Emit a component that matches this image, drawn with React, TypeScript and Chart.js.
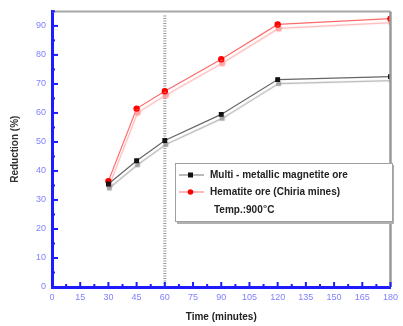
import React, { useEffect, useRef } from "react";
import { Chart, registerables } from "chart.js";

Chart.register(...registerables);

const timeMin = [30, 45, 60, 90, 120, 180];
const magnetite = [35.5, 43.5, 50.5, 59.5, 71.5, 72.5];
const hematite = [36.5, 61.5, 67.5, 78.5, 90.5, 92.5];
const seriesLabels = ["Multi - metallic magnetite ore", "Hematite ore (Chiria mines)"];
const noteMain = "Temp.:900";
const noteUnit = "C";
const xTitle = "Time (minutes)";
const yTitle = "Reduction (%)";
const markerLine = 60;

const AXIS = "#1c1cff";
const TICKLBL = "#8080ff";

const shadowPlugin = {
  id: "lineShadow",
  beforeDatasetDraw(chart: any, args: any) {
    const ctx = chart.ctx;
    ctx.save();
    ctx.shadowColor = args.index === 0 ? "rgba(150,150,150,0.75)" : "rgba(255,150,150,0.75)";
    ctx.shadowOffsetX = 1;
    ctx.shadowOffsetY = 4;
    ctx.shadowBlur = 1;
  },
  afterDatasetDraw(chart: any) {
    chart.ctx.restore();
  },
};

const decoPlugin = {
  id: "deco",
  beforeDatasetsDraw(chart: any) {
    const { ctx, chartArea, scales } = chart;
    const x = scales.x.getPixelForValue(markerLine);
    ctx.save();
    ctx.strokeStyle = "#9a9a9a";
    ctx.lineWidth = 3;
    ctx.setLineDash([1, 1.5]);
    ctx.beginPath();
    ctx.moveTo(x, chartArea.top + 4);
    ctx.lineTo(x, chartArea.bottom);
    ctx.stroke();
    ctx.restore();
  },
  afterDraw(chart: any) {
    const { ctx, chartArea, scales } = chart;
    const { left, right, top, bottom } = chartArea;
    ctx.save();
    ctx.strokeStyle = "#a8a8a8";
    ctx.lineWidth = 2;
    ctx.beginPath();
    ctx.moveTo(left, top);
    ctx.lineTo(right, top);
    ctx.stroke();
    ctx.strokeStyle = "#9a9a9a";
    ctx.lineWidth = 2.5;
    ctx.beginPath();
    ctx.moveTo(right, top);
    ctx.lineTo(right, bottom);
    ctx.stroke();
    ctx.strokeStyle = AXIS;
    ctx.lineWidth = 2;
    for (let v = 0; v <= 180; v += 7.5) {
      const px = scales.x.getPixelForValue(v);
      const len = v % 15 === 0 ? 5 : 3;
      ctx.beginPath();
      ctx.moveTo(px, bottom);
      ctx.lineTo(px, bottom - len);
      ctx.stroke();
    }
    for (let v = 0; v <= 95; v += 5) {
      const py = scales.y.getPixelForValue(v);
      const len = v % 10 === 0 ? 6 : 3;
      ctx.beginPath();
      ctx.moveTo(left, py);
      ctx.lineTo(left + len, py);
      ctx.stroke();
    }
    const bx = 175, by = 163, bw = 217, bh = 58;
    ctx.fillStyle = "#ffffff";
    ctx.fillRect(bx, by, bw, bh);
    ctx.fillStyle = "#b0b0b0";
    ctx.fillRect(bx + 2, by + bh, bw, 3);
    ctx.fillRect(bx + bw, by + 2, 2, bh + 1);
    ctx.strokeStyle = "#a0a0a0";
    ctx.lineWidth = 1;
    ctx.strokeRect(bx + 0.5, by + 0.5, bw, bh);
    const rows = [
      { y: 175, line: "#777777", mark: "#111111", sq: true },
      { y: 192, line: "#ff7070", mark: "#ff0000", sq: false },
    ];
    ctx.font = "bold 10px Arial, 'Liberation Sans', sans-serif";
    ctx.textBaseline = "middle";
    rows.forEach((r, i) => {
      ctx.strokeStyle = r.line;
      ctx.lineWidth = 1;
      ctx.beginPath();
      ctx.moveTo(179, r.y);
      ctx.lineTo(204, r.y);
      ctx.stroke();
      ctx.fillStyle = r.mark;
      if (r.sq) ctx.fillRect(188, r.y - 2.5, 5, 5);
      else {
        ctx.beginPath();
        ctx.arc(190.5, r.y, 2.8, 0, Math.PI * 2);
        ctx.fill();
      }
      ctx.fillStyle = "#222222";
      ctx.textAlign = "left";
      ctx.fillText(seriesLabels[i], 210, r.y);
    });
    ctx.fillStyle = "#222222";
    ctx.fillText(noteMain, 214, 210);
    const w = ctx.measureText(noteMain).width;
    ctx.font = "bold 6px Arial, 'Liberation Sans', sans-serif";
    ctx.fillText("o", 214 + w + 0.5, 206);
    ctx.font = "bold 10px Arial, 'Liberation Sans', sans-serif";
    ctx.fillText(noteUnit, 214 + w + 4.5, 210);
    ctx.restore();
  },
};

export default function App() {
  const ref = useRef<HTMLCanvasElement>(null);
  useEffect(() => {
    const chart = new Chart(ref.current!, {
      type: "line",
      data: {
        labels: timeMin,
        datasets: [
          {
            label: seriesLabels[0],
            data: timeMin.map((t, i) => ({ x: t, y: magnetite[i] })),
            borderColor: "#666666",
            borderWidth: 1.2,
            pointStyle: "rect",
            pointRadius: 2.6,
            pointBackgroundColor: "#111111",
            pointBorderColor: "#111111",
            tension: 0,
          },
          {
            label: seriesLabels[1],
            data: timeMin.map((t, i) => ({ x: t, y: hematite[i] })),
            borderColor: "#ff6a6a",
            borderWidth: 1.2,
            pointStyle: "circle",
            pointRadius: 2.6,
            pointBackgroundColor: "#ff0000",
            pointBorderColor: "#ff0000",
            tension: 0,
          },
        ],
      },
      options: {
        animation: false,
        responsive: false,
        maintainAspectRatio: false,
        layout: { padding: { left: 0, right: 9, top: 9, bottom: 0 } },
        plugins: { legend: { display: false }, tooltip: { enabled: false } },
        scales: {
          x: {
            type: "linear",
            min: 0,
            max: 180,
            grid: { display: false, drawTicks: false },
            border: { display: true, color: AXIS, width: 3 },
            ticks: {
              stepSize: 15,
              padding: 5,
              color: TICKLBL,
              font: { size: 9, family: "Arial, 'Liberation Sans', sans-serif" },
              maxRotation: 0,
              autoSkip: false,
            },
            title: {
              display: true,
              text: xTitle,
              color: "#222222",
              font: { size: 10, weight: "bold", family: "Arial, 'Liberation Sans', sans-serif" },
              padding: { top: 6, bottom: 3 },
            },
            afterFit: (s: any) => {
              s.height = 39;
            },
          } as any,
          y: {
            type: "linear",
            min: 0,
            max: 95,
            grid: { display: false, drawTicks: false },
            border: { display: true, color: AXIS, width: 3 },
            ticks: {
              stepSize: 10,
              includeBounds: false,
              padding: 6,
              color: TICKLBL,
              font: { size: 9, family: "Arial, 'Liberation Sans', sans-serif" },
            },
            title: {
              display: true,
              text: yTitle,
              color: "#333333",
              font: { size: 10, weight: "bold", family: "Arial, 'Liberation Sans', sans-serif" },
              padding: { top: 9, bottom: 0 },
            },
            afterFit: (s: any) => {
              s.width = 52;
            },
          } as any,
        },
      },
      plugins: [shadowPlugin, decoPlugin],
    });
    return () => chart.destroy();
  }, []);
  return (
    <div style={{ position: "absolute", left: 0, top: 0, width: 403, height: 326, background: "#fff" }}>
      <canvas ref={ref} width={403} height={326} />
    </div>
  );
}
